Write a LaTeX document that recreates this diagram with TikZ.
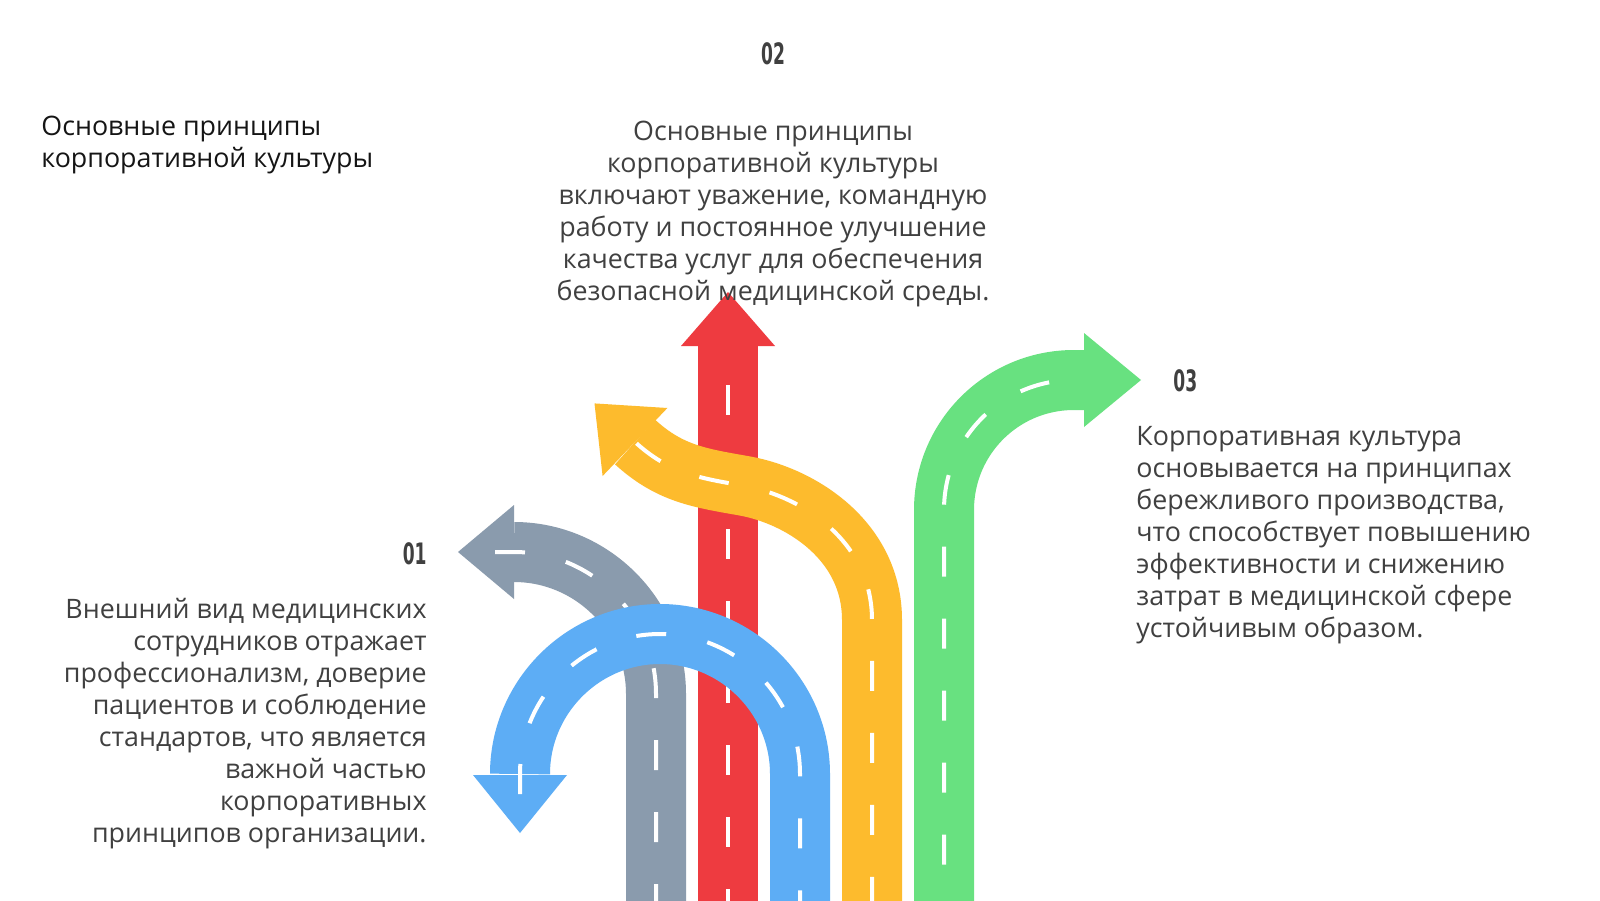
\documentclass[tikz,border=0pt]{standalone}
\usepackage{fontspec}
\setmainfont{Open Sans}
\newfontfamily\numfont{DejaVu Sans}
\definecolor{cgray}{HTML}{8A9BAD}
\definecolor{cred}{HTML}{EE3B40}
\definecolor{cyellow}{HTML}{FDBB2D}
\definecolor{cblue}{HTML}{5DADF5}
\definecolor{cgreen}{HTML}{68E180}
\definecolor{ctext}{HTML}{404040}
\definecolor{ctitle}{HTML}{151515}
\tikzset{
  road/.style={line width=30pt},
  lane/.style={white, line width=2pt, dash pattern=on 15pt off 21pt},
  txt/.style={inner sep=0pt, text=ctext, font=\fontsize{13.4}{16}\selectfont},
  num/.style={inner sep=0pt, text=ctext, font=\fontsize{14.75}{16}\selectfont\numfont\bfseries},
}
\begin{document}
\begin{tikzpicture}[x=0.5pt,y=-0.5pt]
\useasboundingbox (0,0) rectangle (1600,900);
\fill[white] (0,0) rectangle (1600,900);
\begin{scope}
\clip (0,0) rectangle (1600,900);
% gray road
\draw[road, cgray] (514,552) .. controls (592,552) and (656,616) .. (656,694) -- (656,905);
\fill[cgray] (458,552) -- (514,505) -- (514,599) -- cycle;
\draw[lane, dash phase=17.5pt] (458,552) -- (514,552) .. controls (592,552) and (656,616) .. (656,694) -- (656,905);
% red road
\draw[road, cred] (728,345) -- (728,905);
\fill[cred] (728,292) -- (681,346) -- (775,346) -- cycle;
\draw[lane, dash phase=16pt] (728,345) -- (728,905);
% yellow road
\draw[road, cyellow] (635,442) .. controls (670,474) and (700,478) .. (745,486) .. controls (800,496) and (872,540) .. (872,620) -- (872,905);
\fill[cyellow] (594.5,403.4) -- (667.4,408) -- (602.6,476) -- cycle;
\draw[lane, dash phase=35pt] (635,442) .. controls (670,474) and (700,478) .. (745,486) .. controls (800,496) and (872,540) .. (872,620) -- (872,905);
% blue road
\draw[road, cblue] (520,774) .. controls (520,697) and (583,634) .. (660,634) .. controls (737,634) and (800,697) .. (800,774) -- (800,905);
\fill[cblue] (520,833) -- (473,775) -- (567,775) -- cycle;
\draw[lane, dash phase=16.5pt] (520,833) -- (520,774) .. controls (520,697) and (583,634) .. (660,634) .. controls (737,634) and (800,697) .. (800,774) -- (800,905);
% green road
\draw[road, cgreen] (1085,380) -- (1074,380) .. controls (1002,380) and (944,438) .. (944,510) -- (944,905);
\fill[cgreen] (1141,380) -- (1084,333) -- (1084,427) -- cycle;
\draw[lane, dash phase=18.5pt] (1084,380) -- (1074,380) .. controls (1002,380) and (944,438) .. (944,510) -- (944,905);
\end{scope}
% texts
\node[txt, text=ctitle, anchor=base west, align=left] (title) at (41,167.5)
  {Основные принципы\\корпоративной культуры};
\node[num, anchor=center] (n2) at (773,54) {\scalebox{0.58}[1]{02}};
\node[txt, anchor=base, align=center] (t2) at (773,300.5)
  {Основные принципы\\корпоративной культуры\\включают уважение, командную\\работу и постоянное улучшение\\качества услуг для обеспечения\\безопасной медицинской среды.};
\node[num, anchor=east] (n1) at (427,554) {\scalebox{0.58}[1]{01}};
\node[txt, anchor=base east, align=right] (t1) at (427,842.5)
  {Внешний вид медицинских\\сотрудников отражает\\профессионализм, доверие\\пациентов и соблюдение\\стандартов, что является\\важной частью\\корпоративных\\принципов организации.};
\node[num, anchor=west] (n3) at (1173,381) {\scalebox{0.58}[1]{03}};
\node[txt, anchor=base west, align=left] (t3) at (1136,637)
  {Корпоративная культура\\основывается на принципах\\бережливого производства,\\что способствует повышению\\эффективности и снижению\\затрат в медицинской сфере\\устойчивым образом.};
\end{tikzpicture}
\end{document}
